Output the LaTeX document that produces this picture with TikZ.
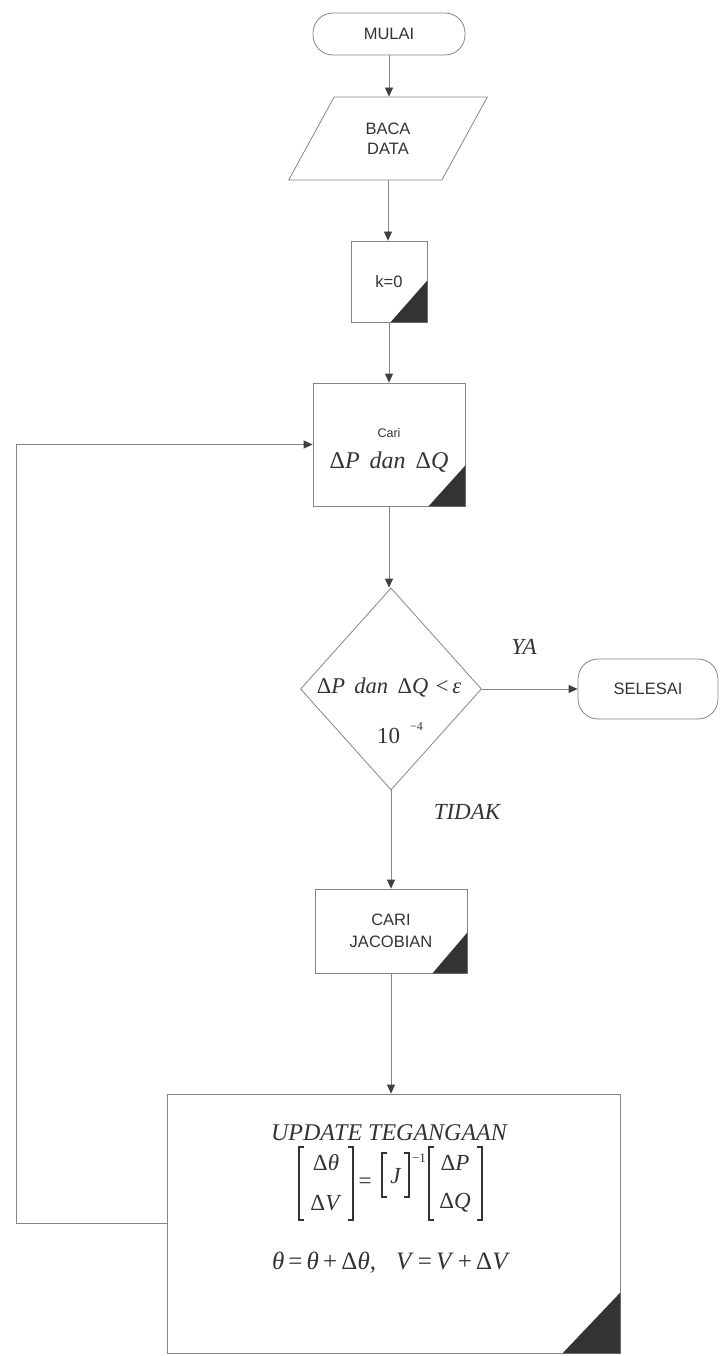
\documentclass[tikz,border=0pt]{standalone}
\usepackage{fontspec}
\setmainfont{Liberation Serif}
\newfontfamily\sansf{Liberation Sans}
\usetikzlibrary{shapes.geometric,arrows.meta}
\definecolor{ln}{gray}{0.52}
\definecolor{tx}{gray}{0.2}
\definecolor{tri}{gray}{0.2}
\tikzset{
  base/.style={draw=ln, line width=0.8pt, text=tx, inner sep=0pt},
  term/.style={base, rectangle, rounded corners=20pt, font=\sansf\fontsize{16.5}{19}\selectfont},
  procbox/.style={base, rectangle, align=center},
  iobox/.style={base, trapezium, trapezium left angle=59, trapezium right angle=121,
                trapezium stretches=true, align=center, font=\sansf\fontsize{16.5}{20}\selectfont},
  decbox/.style={base, diamond},
  txt/.style={inner sep=0pt, text=tx, align=center},
  mtx/.style={inner sep=0pt, text=tx, font=\fontsize{23}{25}\selectfont},
  brk/.style={draw=tx, line width=1.1pt},
  lbl/.style={inner sep=0pt, text=tx, font=\fontsize{23}{25}\selectfont\itshape},
  conn/.style={draw=ln, line width=0.8pt, -{Triangle[width=8pt,length=9pt,color=black!75]}},
  cornermark/.style={fill=tri, draw=none}
}
\begin{document}
\begin{tikzpicture}[x=1pt,y=-1pt]
\useasboundingbox (0,0) rectangle (720,1356);

% nodes
\node[term, minimum width=152pt, minimum height=42pt] (mulai) at (389,34) {MULAI};
\node[iobox, minimum width=200pt, minimum height=83pt] (baca) at (388,138.5) {BACA\\DATA};
\node[procbox, minimum width=76pt, minimum height=81pt, font=\sansf\fontsize{16.5}{19}\selectfont] (k0) at (389,281.5) {k=0};
\node[procbox, minimum width=152pt, minimum height=123pt] (cari) at (389,444.5) {};
\node[txt, font=\sansf\fontsize{12.5}{14}\selectfont] (caritop) at (389,433) {Cari};
\node[txt, font=\fontsize{24}{26}\selectfont] (caribot) at (389,462) {Δ\textit{P\, dan\,} Δ\textit{Q}};
\node[decbox, minimum width=181pt, minimum height=202pt] (dia) at (391,689) {};
\node[txt, font=\fontsize{22.5}{24}\selectfont] (dtxt) at (389,688) {Δ\textit{P\, dan\,} Δ\textit{Q}\,\,<\,\textit{ε}};
\node[txt, font=\fontsize{23}{24}\selectfont] (dexp) at (400,733) {10\hspace{10pt}\raisebox{0.55em}{\fontsize{12}{12}\selectfont −4}};
\node[term, minimum width=140pt, minimum height=60pt] (sel) at (648,689) {SELESAI};
\node[procbox, minimum width=152pt, minimum height=84pt, font=\sansf\fontsize{16.5}{22}\selectfont] (jac) at (391,931) {CARI\\JACOBIAN};
\node[procbox, minimum width=453pt, minimum height=259pt] (upd) at (393.5,1223.5) {};
\node[txt, font=\fontsize{24}{26}\selectfont\itshape] (updt) at (389,1133) {UPDATE TEGANGAAN};

% matrix equation
\node[mtx] (ma) at (326,1163) {Δ\textit{θ}};
\node[mtx] (mb) at (326,1203) {Δ\textit{V}};
\node[mtx] (meq) at (365,1183) {=};
\node[mtx] (mj) at (396,1176) {\textit{J}};
\node[txt, font=\fontsize{13}{13}\selectfont] (mexp) at (419,1158) {−1};
\node[mtx] (mc) at (455,1163) {Δ\textit{P}};
\node[mtx] (md) at (455,1203) {Δ\textit{Q}};
\draw[brk] (304,1147) -- (299,1147) -- (299,1220) -- (304,1220);
\draw[brk] (348,1147) -- (353,1147) -- (353,1220) -- (348,1220);
\draw[brk] (387,1153) -- (382,1153) -- (382,1197) -- (387,1197);
\draw[brk] (404,1153) -- (409,1153) -- (409,1197) -- (404,1197);
\draw[brk] (434,1147) -- (429,1147) -- (429,1220) -- (434,1220);
\draw[brk] (477,1147) -- (482,1147) -- (482,1220) -- (477,1220);

\node[txt, font=\fontsize{25}{27}\selectfont] (upde) at (391,1263)
  {\textit{θ}\,=\,\textit{θ}\,+\,Δ\textit{θ},\hspace{20pt}\textit{V}\,=\,\textit{V}\,+\,Δ\textit{V}};

% corner marks
\fill[cornermark] (k0.south east) -- ++(-37,0) -- ++(37,-42) -- cycle;
\fill[cornermark] (cari.south east) -- ++(-37,0) -- ++(37,-41) -- cycle;
\fill[cornermark] (jac.south east) -- ++(-35,0) -- ++(35,-41) -- cycle;
\fill[cornermark] (upd.south east) -- ++(-58,0) -- ++(58,-61) -- cycle;

% labels
\node[lbl] (ya) at (524,647) {YA};
\node[lbl] (tidak) at (467,812) {TIDAK};

% connectors
\coordinate (lpx) at (16,0);
\draw[conn] (mulai.south) -- (mulai.south |- baca.north);
\draw[conn] (baca.south) -- (baca.south |- k0.north);
\draw[conn] (k0.south) -- (k0.south |- cari.north);
\draw[conn] (cari.south) -- (cari.south |- dia.north);
\draw[conn] (dia.east) -- (sel.west);
\draw[conn] (dia.south) -- (dia.south |- jac.north);
\draw[conn] (jac.south) -- (jac.south |- upd.north);
\draw[conn] (upd.west) -- (upd.west -| lpx) -- (cari.west -| lpx) -- (cari.west);
\end{tikzpicture}
\end{document}
